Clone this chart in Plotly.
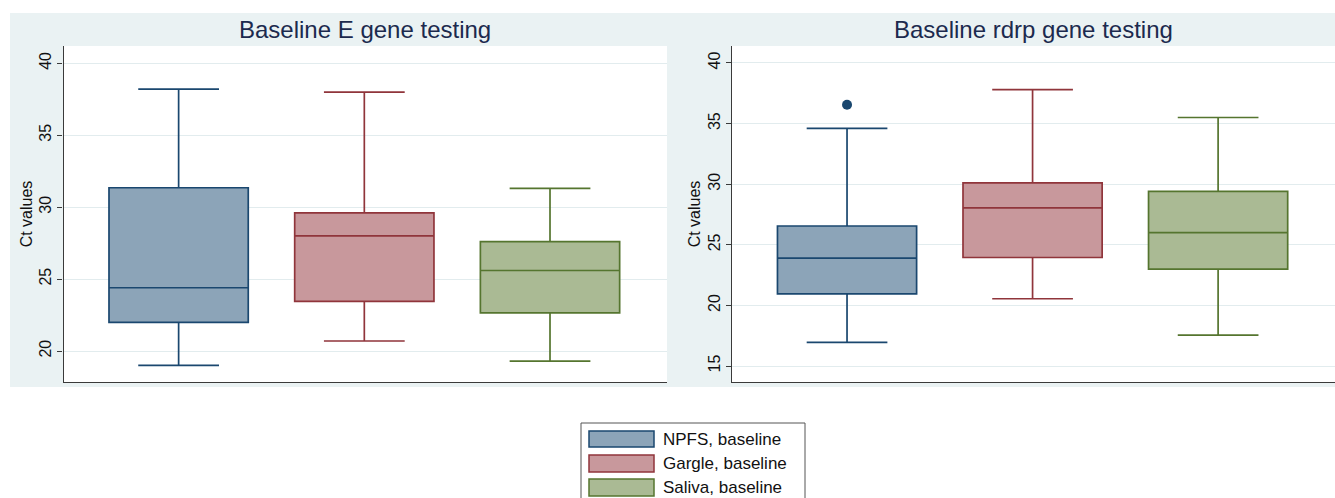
import plotly.graph_objects as go

# ---- data (Ct values, summary statistics per specimen type) ----
groups = ["NPFS, baseline", "Gargle, baseline", "Saliva, baseline"]
positions = [0, 1, 2]

# E gene
e_lower = [19.0, 20.7, 19.3]
e_q1 = [22.0, 23.45, 22.65]
e_median = [24.4, 28.0, 25.6]
e_q3 = [31.35, 29.6, 27.6]
e_upper = [38.2, 38.0, 31.3]

# RdRp gene
r_lower = [16.95, 20.55, 17.55]
r_q1 = [20.95, 23.95, 23.0]
r_median = [23.9, 28.05, 26.0]
r_q3 = [26.55, 30.1, 29.4]
r_upper = [34.6, 37.8, 35.5]
r_outlier_x = [0]
r_outlier_y = [36.55]

e_ticks = [20, 25, 30, 35, 40]
r_ticks = [15, 20, 25, 30, 35, 40]

titles = ["Baseline E gene testing", "Baseline rdrp gene testing"]
y_title = "Ct values"

fills = ["#8CA4B8", "#C8989C", "#AABA94"]
lines = ["#1A476F", "#90353B", "#55752F"]

W, H = 1335, 498
BG = "#EAF2F3"
GRID = "#E2ECEE"
AXIS = "#3A3A3A"
FONT = "Liberation Sans, Arial, sans-serif"


def px(x):
    return x / W


def py(y):
    return 1 - y / H


fig = go.Figure()

panels = [
    ("x", "y", e_lower, e_q1, e_median, e_q3, e_upper),
    ("x2", "y2", r_lower, r_q1, r_median, r_q3, r_upper),
]
for xa, ya, lo, q1, med, q3, up in panels:
    for i, name in enumerate(groups):
        fig.add_trace(go.Box(
            x=[positions[i]], q1=[q1[i]], median=[med[i]], q3=[q3[i]],
            lowerfence=[lo[i]], upperfence=[up[i]],
            name=name, width=0.75, whiskerwidth=0.58,
            fillcolor=fills[i], line=dict(color=lines[i], width=1.7),
            boxpoints=False, showlegend=False, hoverinfo="skip",
            xaxis=xa, yaxis=ya,
        ))

fig.add_trace(go.Scatter(
    x=r_outlier_x, y=r_outlier_y, mode="markers",
    marker=dict(size=10, color=lines[0]),
    showlegend=False, hoverinfo="skip", xaxis="x2", yaxis="y2",
))

# ---- axes ----
plot_top, plot_bot = 46, 382
xdom1 = [px(63.5), px(667)]
xdom2 = [px(732), 1.0]
ydom = [py(plot_bot), py(plot_top)]

xcommon = dict(range=[-0.62, 2.63], showticklabels=False, showgrid=False,
               zeroline=False, showline=True, linecolor=AXIS, linewidth=1.2,
               ticks="", fixedrange=True)
ycommon = dict(showgrid=True, gridcolor=GRID, gridwidth=1, zeroline=False,
               showline=True, linecolor=AXIS, linewidth=1.2,
               ticks="outside", ticklen=5, tickcolor=AXIS, tickwidth=1,
               tickangle=-90, tickfont=dict(size=16, color="#111", family=FONT),
               title=dict(text=y_title, font=dict(size=16, color="#111", family=FONT),
                          standoff=0))

fig.update_layout(
    width=W, height=H,
    margin=dict(l=0, r=0, t=0, b=0),
    paper_bgcolor="white", plot_bgcolor="white",
    font=dict(family=FONT),
    xaxis=dict(domain=xdom1, anchor="y", **xcommon),
    xaxis2=dict(domain=xdom2, anchor="y2", **xcommon),
    yaxis=dict(domain=ydom, anchor="x", range=[17.85, 41.2], tickvals=e_ticks, **ycommon),
    yaxis2=dict(domain=ydom, anchor="x2", range=[13.68, 41.4], tickvals=r_ticks, **ycommon),
)

# ---- graph-region background around the plot areas ----
def rect(x0, y0, x1, y1, **kw):
    fig.add_shape(type="rect", xref="paper", yref="paper",
                  x0=px(x0), x1=px(x1), y0=py(y1), y1=py(y0), **kw)

for x0, y0, x1, y1 in [(10, 13, W, plot_top), (10, plot_top, 63.5, 387),
                       (667, plot_top, 732, 387), (10, plot_bot, W, 387)]:
    rect(x0, y0, x1, y1, fillcolor=BG, line=dict(width=0), layer="below")

# ---- panel titles ----
for title, dom in zip(titles, [xdom1, xdom2]):
    fig.add_annotation(text=title, xref="paper", yref="paper",
                       x=(dom[0] + dom[1]) / 2, y=py(30), showarrow=False,
                       xanchor="center", yanchor="middle",
                       font=dict(size=24, color="#1C2A4E", family=FONT))

# ---- legend key ----
rect(581, 423, 805, 505, fillcolor="white", line=dict(color="#555", width=1))
sw_y = [(431, 447), (455, 472), (479, 496)]
for i, name in enumerate(groups):
    y0, y1 = sw_y[i]
    rect(589, y0, 654, y1, fillcolor=fills[i], line=dict(color=lines[i], width=1.5))
    fig.add_annotation(text=name, xref="paper", yref="paper", x=px(661),
                       y=py((y0 + y1) / 2), xanchor="left", yanchor="middle",
                       showarrow=False, font=dict(size=17, color="#111", family=FONT))

fig.write_html("out.html")
